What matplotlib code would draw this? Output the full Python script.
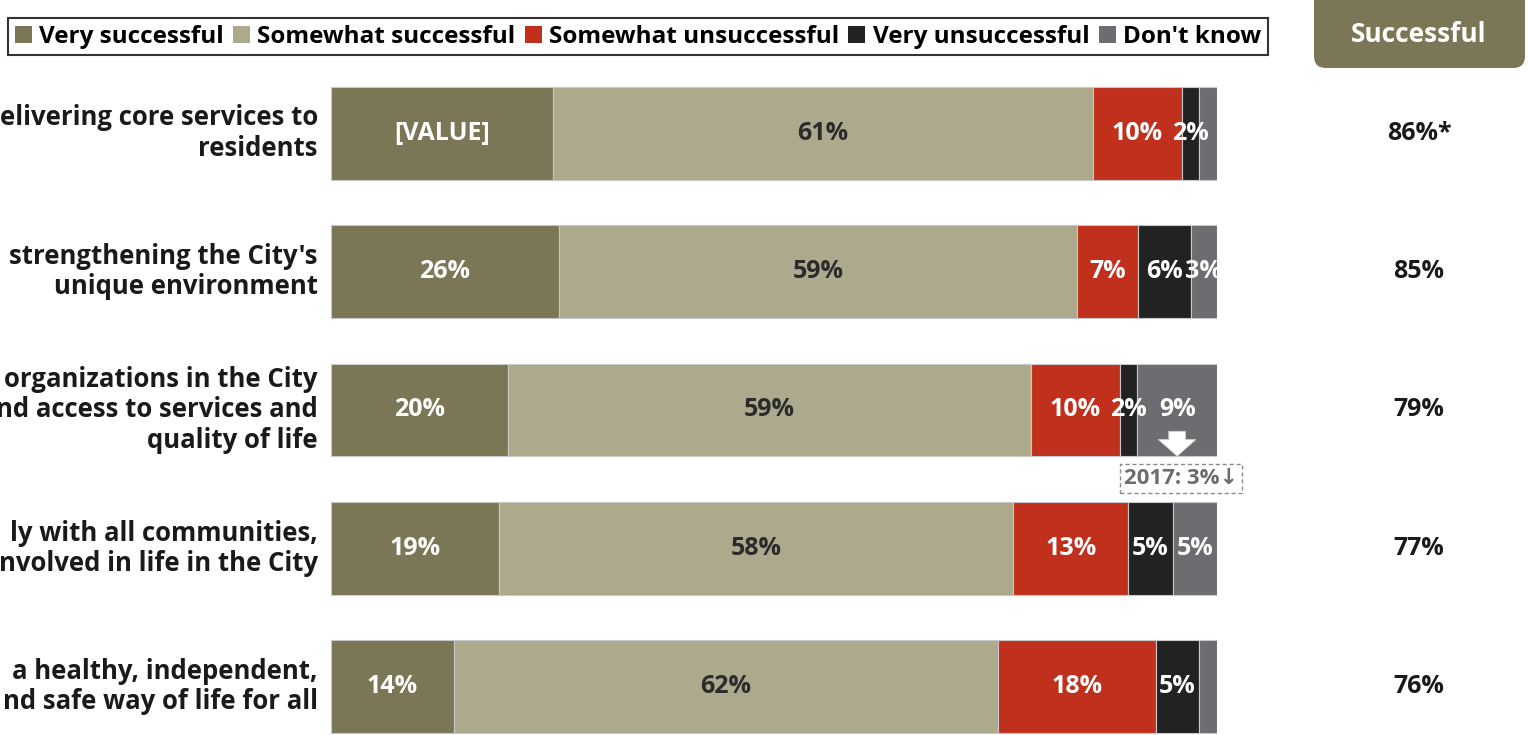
import numpy as np
import matplotlib
matplotlib.use("Agg")
import matplotlib.pyplot as plt
from matplotlib.patches import FancyBboxPatch
from matplotlib.transforms import IdentityTransform, blended_transform_factory

plt.rcParams['font.family'] = ['Open Sans', 'DejaVu Sans']
plt.rcParams['font.weight'] = 'bold'

# ---------------- data ----------------
# category labels as visible in the (left-cropped) reference
categories = [
    "elivering core services to\nresidents",
    "strengthening the City's\nunique environment",
    "organizations in the City\nnd access to services and\nquality of life",
    "ly with all communities,\nnvolved in life in the City",
    "a healthy, independent,\nnd safe way of life for all",
]
series_names = ["Very successful", "Somewhat successful", "Somewhat unsuccessful",
                "Very unsuccessful", "Don't know"]
very_successful = [25, 26, 20, 19, 14]
somewhat_successful = [61, 59, 59, 58, 62]
somewhat_unsuccessful = [10, 7, 10, 13, 18]
very_unsuccessful = [2, 6, 2, 5, 5]
dont_know = [2, 3, 9, 5, 2]
# labels shown in the bars ('' = no label)
bar_labels = [
    ["[VALUE]", "61%", "10%", "2%", ""],
    ["26%", "59%", "7%", "6%", "3%"],
    ["20%", "59%", "10%", "2%", "9%"],
    ["19%", "58%", "13%", "5%", "5%"],
    ["14%", "62%", "18%", "5%", ""],
]
successful_header = "Successful"
successful_totals = ["86%*", "85%", "79%", "77%", "76%"]
note_2017 = "2017: 3%\u2193"

colors = ["#7b7656", "#aca98d", "#c0301c", "#222222", "#6d6c70"]
label_colors = ["white", "#2b2b2b", "white", "white", "white"]

# ---------------- figure ----------------
W, H = 1528, 735
fig = plt.figure(figsize=(W / 100, H / 100), dpi=100)
ax = fig.add_axes([331 / W, 0.0, 886 / W, 1 - 64 / H])

data = np.array([very_successful, somewhat_successful, somewhat_unsuccessful,
                 very_unsuccessful, dont_know], dtype=float).T
shares = data / data.sum(axis=1, keepdims=True) * 100
y = np.arange(len(categories))
left = np.zeros(len(categories))
containers = []
for j, name in enumerate(series_names):
    c = ax.barh(y, shares[:, j], left=left, height=0.67, color=colors[j],
                edgecolor="#c8c8c8", linewidth=0.8, label=name)
    containers.append(c)
    for i in range(len(categories)):
        lab = bar_labels[i][j]
        if lab:
            ax.text(left[i] + shares[i, j] / 2, y[i], lab, ha="center", va="center",
                    color=label_colors[j], fontsize=18, fontweight="bold")
    left = left + shares[:, j]

ax.set_xlim(0, 100)
ax.set_ylim(4.35, -0.5)
ax.axis("off")

# category labels on the left
tr_left = blended_transform_factory(ax.transAxes, ax.transData)
for i, cat in enumerate(categories):
    ax.text(-0.0147, y[i], cat, transform=tr_left, ha="right", va="center",
            fontsize=18.5, fontweight="bold", color="#1a1a1a", linespacing=1.16,
            multialignment="right", clip_on=False)

# right-hand totals
for i, tot in enumerate(successful_totals):
    ax.text(1.228, y[i], tot, transform=tr_left, ha="center", va="center",
            fontsize=18, fontweight="bold", color="#1a1a1a", clip_on=False)

# header box "Successful"
hdr = FancyBboxPatch((1314, H - 68), 211, 80, boxstyle="round,pad=0,rounding_size=12",
                     transform=IdentityTransform(), facecolor="#7b7656", edgecolor="none")
fig.patches.append(hdr)
fig.text(1419 / W, 1 - 35 / H, successful_header, ha="center", va="center", color="white",
         fontsize=19, fontweight="bold")

# 2017 annotation below the Don't know segment of row 3
r = 2
xc = left[r] - shares[r, 4] / 2
ax.annotate("", xy=(xc, y[r] + 0.335), xytext=(xc, y[r] + 0.155),
            arrowprops=dict(arrowstyle="simple,head_length=0.6,head_width=1.35,tail_width=0.6",
                            facecolor="white", edgecolor="#d0d0d0", linewidth=0.6,
                            mutation_scale=20, shrinkA=0, shrinkB=0))
ax.text(xc + 0.4, y[r] + 0.495, note_2017, ha="center", va="center",
        fontsize=16, fontweight="bold", color="#6d6c70",
        bbox=dict(boxstyle="square,pad=0.17", facecolor="white", edgecolor="#8a8a8a",
                  linestyle=(0, (3, 2)), linewidth=1.0))

# legend
leg = fig.legend(handles=containers, labels=series_names, ncol=5, loc="upper left",
                 bbox_to_anchor=(8 / W, 1 - 18 / H), frameon=True, fancybox=False,
                 edgecolor="black", fontsize=17.5, handlelength=0.7, handleheight=0.7,
                 handletextpad=0.3, columnspacing=0.38, borderpad=0.27, borderaxespad=0)
leg.get_frame().set_linewidth(1.5)
for t in leg.get_texts():
    t.set_fontweight("bold")
for h in leg.legend_handles:
    h.set_edgecolor("none")

fig.savefig("out.png", dpi=100)
